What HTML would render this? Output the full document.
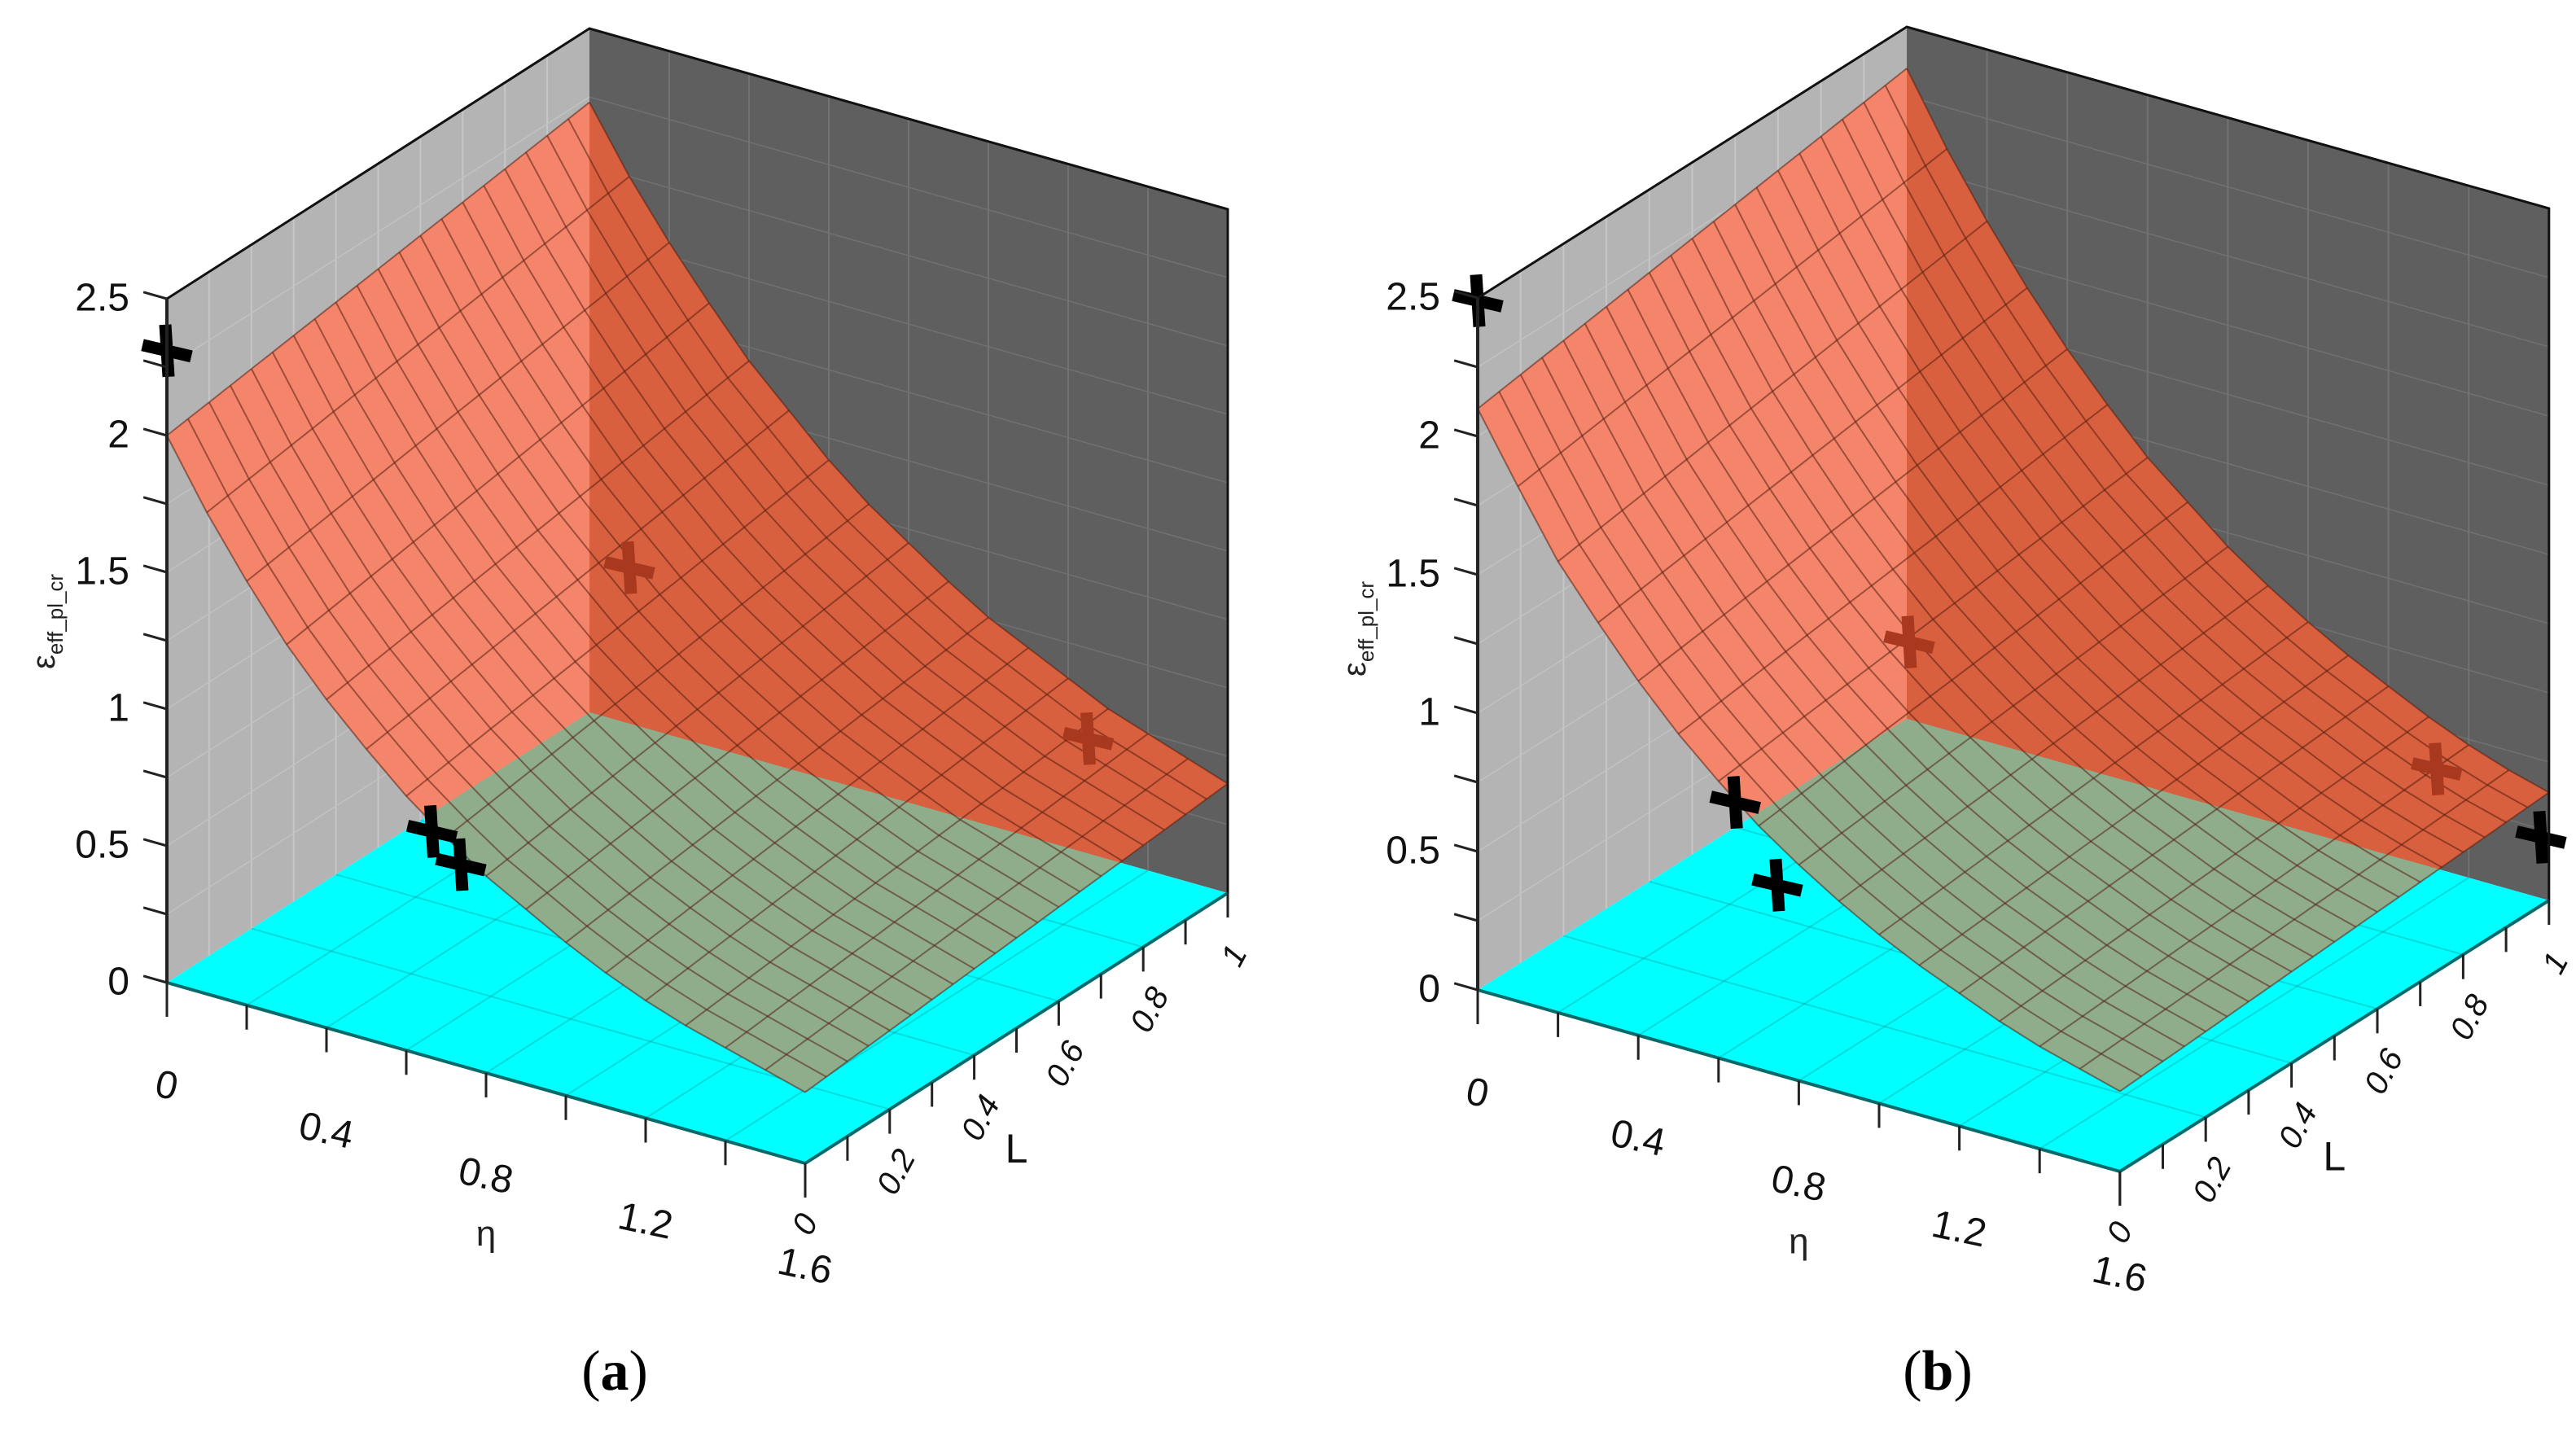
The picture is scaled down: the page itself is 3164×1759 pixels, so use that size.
<!DOCTYPE html>
<html><head><meta charset="utf-8"><style>
html,body{margin:0;padding:0;background:#fff;}
svg{display:block;}
text{font-family:"Liberation Sans","DejaVu Sans",sans-serif;}
</style></head><body>
<svg id="fig" width="3164" height="1759" viewBox="0 0 3164 1759" xmlns="http://www.w3.org/2000/svg">
<rect width="3164" height="1759" fill="#fff"/>
</svg>
<script>
// ---- data ----
const etaGrid = [0,0.1,0.2,0.3,0.4,0.5,0.6,0.7,0.8,0.9,1.0,1.1,1.2,1.3,1.4,1.5,1.6];
const zA_L0 = [2.00,1.76,1.55,1.36,1.20,1.06,0.93,0.82,0.72,0.64,0.56,0.49,0.43,0.38,0.34,0.30,0.26];
const zA_L1 = [2.23,2.00,1.80,1.62,1.45,1.31,1.17,1.05,0.95,0.85,0.76,0.69,0.62,0.55,0.50,0.45,0.40];
const zB_L0 = [2.10,1.86,1.63,1.45,1.28,1.13,1.00,0.88,0.78,0.69,0.61,0.54,0.48,0.42,0.37,0.33,0.29];
const zB_L1 = [2.35,2.10,1.88,1.68,1.50,1.34,1.19,1.07,0.95,0.85,0.76,0.68,0.61,0.54,0.48,0.43,0.39];
const markA_eta = [0, 0.05, 0.19, 0.10, 1.25];
const markA_L   = [0, 0.58, 0.516, 1, 1];
const markA_z   = [2.31, 0, 0, 0.57, 0.42];
const markA_under = [false,false,false,true,true];
const markB_eta = [0, 0, 0.23, 1.58, 0.006, 1.32];
const markB_L   = [0, 0.6, 0.483, 1, 1, 1];
const markB_z   = [2.49, 0.09, 0, 0.22, 0.28, 0.36];
const markB_under = [false,false,false,false,true,true];
const zTickLabels = ["0","0.5","1","1.5","2","2.5"];
const zTickVals = [0,0.5,1,1.5,2,2.5];
const etaTickLabels = ["0","0.4","0.8","1.2","1.6"];
const etaTickVals = [0,0.4,0.8,1.2,1.6];
const LTickLabels = ["0.2","0.4","0.6","0.8","1"];
const LTickVals = [0.2,0.4,0.6,0.8,1];

const NS = "http://www.w3.org/2000/svg";
const svg = document.getElementById('fig');
function mk(tag, attrs, parent){
  const e = document.createElementNS(NS, tag);
  for (const k in attrs) e.setAttribute(k, attrs[k]);
  (parent||svg).appendChild(e);
  return e;
}
function pts(a){return a.map(p=>p[0].toFixed(1)+','+p[1].toFixed(1)).join(' ');}

function drawPanel(P, zL0, zL1, mEta, mL, mZ, mUnder, cap, capX){
  const g = mk('g', {});
  
  
  const pr = (eta,L,z)=>[P.ox+eta*P.ex+L*P.lx, P.oy+eta*P.ey+L*P.ly-z*P.zs];
  const ZT = 2.5, EM = 1.6;
  const leftWall = [pr(0,0,0),pr(0,1,0),pr(0,1,ZT),pr(0,0,ZT)];
  const rightWall = [pr(0,1,0),pr(EM,1,0),pr(EM,1,ZT),pr(0,1,ZT)];
  const floor = [pr(0,0,0),pr(EM,0,0),pr(EM,1,0),pr(0,1,0)];
  let e;
  e = mk('polygon',{points:pts(leftWall),fill:'#b4b4b4'},g);
   
  e = mk('polygon',{points:pts(rightWall),fill:'#5f5f5f'},g);
   
  e = mk('polygon',{points:pts(floor),fill:'#00ffff'},g);
   
  for (let i=1;i<10;i++){const L=i/10; const a=pr(0,L,0), b=pr(0,L,ZT);
    mk('line',{x1:a[0],y1:a[1],x2:b[0],y2:b[1],stroke:'#c6c6c6','stroke-width':2},g);}
  for (let i=1;i<10;i++){const z=i*0.25; const a=pr(0,0,z), b=pr(0,1,z);
    mk('line',{x1:a[0],y1:a[1],x2:b[0],y2:b[1],stroke:'#c2c2c2','stroke-width':1.5},g);
    const c=pr(EM,1,z);
    mk('line',{x1:b[0],y1:b[1],x2:c[0],y2:c[1],stroke:'#717171','stroke-width':1.5},g);}
  for (let i=1;i<8;i++){const et=i*0.2; const a=pr(et,1,0), b=pr(et,1,ZT);
    mk('line',{x1:a[0],y1:a[1],x2:b[0],y2:b[1],stroke:'#727272','stroke-width':2},g);}
  for (let i=1;i<8;i++){const et=i*0.2; const a=pr(et,0,0), b=pr(et,1,0);
    mk('line',{x1:a[0],y1:a[1],x2:b[0],y2:b[1],stroke:'rgba(0,110,110,0.25)','stroke-width':2},g);}
  for (let i=1;i<5;i++){const L=i*0.2; const a=pr(0,L,0), b=pr(EM,L,0);
    mk('line',{x1:a[0],y1:a[1],x2:b[0],y2:b[1],stroke:'rgba(0,110,110,0.25)','stroke-width':2},g);}
  const nL = 20;
  const zAt = (i,j)=> zL0[i] + (zL1[i]-zL0[i])*(j/nL);
  const sp = (i,j)=> pr(etaGrid[i], j/nL, zAt(i,j));
  const cid = 'clip-'+cap;
  const cp = mk('clipPath',{id:cid},g);
  for (let i=0;i<etaGrid.length-1;i++) for (let j=0;j<nL;j++){
    mk('polygon',{points:pts([sp(i,j),sp(i+1,j),sp(i+1,j+1),sp(i,j+1)])},cp);
  }
  const sg = mk('g',{'clip-path':'url(#'+cid+')'},g);
  
  
  mk('polygon',{points:pts(leftWall),fill:'#f4856a'},sg);
  mk('polygon',{points:pts(rightWall),fill:'#d9603f'},sg);
  mk('polygon',{points:pts(floor),fill:'#8fad8b'},sg);
  for (let j=0;j<=nL;j++){
    const arr=[]; for(let i=0;i<etaGrid.length;i++) arr.push(sp(i,j));
    mk('polyline',{points:pts(arr),fill:'none',stroke:'rgba(90,30,15,0.55)','stroke-width':2},g);
  }
  for (let i=0;i<etaGrid.length;i++){
    const arr=[]; for(let j=0;j<=nL;j++) arr.push(sp(i,j));
    mk('polyline',{points:pts(arr),fill:'none',stroke:'rgba(90,30,15,0.55)','stroke-width':2},g);
  }
  for (let k=0;k<mEta.length;k++){
    const c = pr(mEta[k], mL[k], mZ[k]);
    const col = mUnder[k] ? '#a8391f' : '#000';
    const m = mk('g',{},g);
    
    
    mk('line',{x1:c[0]-30,y1:c[1]-7,x2:c[0]+30,y2:c[1]+7,stroke:col,'stroke-width':15},m);
    mk('line',{x1:c[0]-2,y1:c[1]-32,x2:c[0]+2,y2:c[1]+32,stroke:col,'stroke-width':15},m);
  }
  const t0=pr(0,0,ZT), t1=pr(0,1,ZT), t2=pr(EM,1,ZT), b2=pr(EM,1,0);
  mk('polyline',{points:pts([t0,t1,t2,b2]),fill:'none',stroke:'#111','stroke-width':3},g);
  const o=pr(0,0,0), f=pr(EM,0,0), r=pr(EM,1,0);
  mk('polyline',{points:pts([o,f,r]),fill:'none',stroke:'#0a6a6a','stroke-width':4},g);
  const za = mk('g',{},g);
   
  mk('line',{x1:o[0],y1:o[1],x2:t0[0],y2:t0[1],stroke:'#222','stroke-width':4},za);
  const eu = Math.hypot(P.ex,P.ey);
  for (let i=0;i<=10;i++){const z=i*0.25; const p=pr(0,0,z);
    mk('line',{x1:p[0],y1:p[1],x2:p[0]-30*P.ex/eu,y2:p[1]-30*P.ey/eu,stroke:'#222','stroke-width':3},za);}
  zTickVals.forEach((v,k)=>{const p=pr(0,0,v);
    const t=mk('text',{x:p[0]-46,y:p[1]+2,'text-anchor':'end','dominant-baseline':'middle','font-size':48,fill:'#111'},za);
    t.textContent=zTickLabels[k];});
  const ea = mk('g',{},g);
   
  for (let i=0;i<=8;i++){const p=pr(i*0.2,0,0); const len=(i==0||i==8)?42:30;
    mk('line',{x1:p[0],y1:p[1],x2:p[0],y2:p[1]+len,stroke:'#222','stroke-width':3},ea);}
  etaTickVals.forEach((v,k)=>{const p=pr(v,0,0);
    const t=mk('text',{x:p[0],y:p[1]+142,'text-anchor':'middle','font-size':48,fill:'#111',transform:`rotate(12 ${p[0]} ${p[1]+125})`},ea);
    t.textContent=etaTickLabels[k];});
  const pe=pr(0.8,0,0);
  let t=mk('text',{x:pe[0],y:pe[1]+212,'text-anchor':'middle','font-size':44,fill:'#222'},ea); t.textContent='η';
  const la = mk('g',{},g);
   
  for (let i=0;i<=10;i++){const p=pr(EM,i/10,0);
    mk('line',{x1:p[0],y1:p[1],x2:p[0],y2:p[1]+(i==0?42:30),stroke:'#222','stroke-width':3},la);}
  const p0=pr(EM,0,0);
  t=mk('text',{x:p0[0],y:p0[1]+88,'text-anchor':'middle','font-size':40,'font-style':'italic',fill:'#111',transform:`rotate(-62 ${p0[0]} ${p0[1]+75})`},la); t.textContent='0';
  LTickVals.forEach((v,k)=>{const p=pr(EM,v,0);
    const tt=mk('text',{x:p[0]+8,y:p[1]+90,'text-anchor':'middle','font-size':40,'font-style':'italic',fill:'#111',transform:`rotate(-62 ${p[0]+8} ${p[1]+77})`},la);
    tt.textContent=LTickLabels[k];});
  const pl=pr(EM,0.5,0);
  t=mk('text',{x:pl[0],y:pl[1]+165,'text-anchor':'middle','font-size':50,fill:'#111'},la); t.textContent='L';
  const zt=mk('text',{x:0,y:0,'font-size':40,fill:'#222',transform:`translate(${P.ox-138} ${P.oy-385}) rotate(-90)`},g);
   
  zt.innerHTML='ε<tspan font-size="26" dy="10">eff_pl_cr</tspan>';
  const c=mk('text',{x:capX,y:1707,'text-anchor':'middle','font-size':70,fill:'#000',style:'font-family:"Liberation Serif",serif'},g);
   
  c.innerHTML='(<tspan font-weight="bold">'+cap+'</tspan>)';
}
drawPanel({ox:205,oy:1207,ex:490,ey:138.75,lx:519,ly:-332,zs:336}, zA_L0, zA_L1, markA_eta, markA_L, markA_z, markA_under, 'a', 755);
drawPanel({ox:1815,oy:1216,ex:493,ey:139.4,lx:527,ly:-333,zs:340}, zB_L0, zB_L1, markB_eta, markB_L, markB_z, markB_under, 'b', 2380);
</script>
</body></html>
